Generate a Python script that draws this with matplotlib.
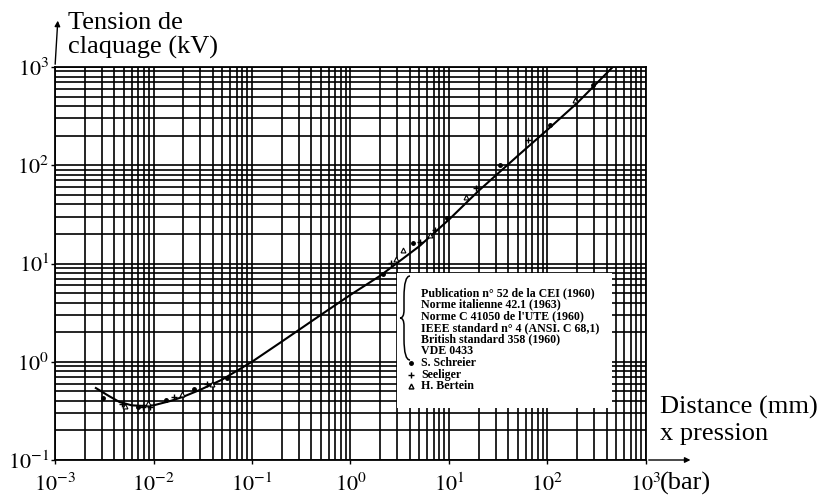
import math
import matplotlib
matplotlib.use("Agg")
import matplotlib.pyplot as plt
from matplotlib.patches import Rectangle, PathPatch
from matplotlib.path import Path
from matplotlib.ticker import FixedLocator, FuncFormatter, NullFormatter

# Paschen curve: pd (mm x bar) -> breakdown voltage (kV)
curve_pd = [0.0026, 0.0035, 0.0045, 0.006, 0.008, 0.01, 0.015, 0.02, 0.03, 0.05,
            0.1, 0.2, 0.5, 1, 2, 5, 10, 20, 50, 100, 200, 460]
curve_kv = [0.54, 0.45, 0.39, 0.36, 0.355, 0.36, 0.40, 0.44, 0.52, 0.66,
            1.0, 1.6, 3.0, 4.8, 7.5, 15, 28, 55, 125, 230, 430, 1000]

# measured points (approximate)
schreier_pd = [0.0031, 0.0069, 0.0135, 0.026, 0.056, 2.15, 4.3, 9.6, 33, 107, 290]
schreier_kv = [0.43, 0.35, 0.41, 0.53, 0.69, 7.8, 16, 29, 100, 257, 660]
seeliger_pd = [0.0048, 0.0078, 0.0093, 0.0162, 0.035, 2.6, 5.1, 7.2, 19, 63]
seeliger_kv = [0.37, 0.35, 0.35, 0.44, 0.59, 10.2, 16.6, 22, 59, 180]
bertein_pd = [0.0051, 0.0088, 0.0195, 0.039, 2.9, 3.4, 6.4, 15, 190]
bertein_kv = [0.355, 0.38, 0.47, 0.60, 11, 13.7, 19.5, 47, 460]

x_decades = [-3, -2, -1, 0, 1, 2, 3]
y_decades = [-1, 0, 1, 2, 3]

standards = ["Publication n\u00b0 52 de la CEI (1960)",
             "Norme italienne 42.1 (1963)",
             "Norme C 41050 de l'UTE (1960)",
             "IEEE standard n\u00b0 4 (ANSI. C 68,1)",
             "British standard 358 (1960)",
             "VDE 0433"]
authors = ["S. Schreier", "Seeliger", "H. Bertein"]

plt.rcParams["font.family"] = ["Liberation Serif", "DejaVu Serif"]
plt.rcParams["mathtext.fontset"] = "stix"

W, H = 820, 497
fig = plt.figure(figsize=(W / 100, H / 100), dpi=100)
ax = fig.add_axes([55 / W, 1 - 460 / H, 591 / W, 393 / H])
ax.set_xscale("log")
ax.set_yscale("log")
ax.set_xlim(1e-3, 1e3)
ax.set_ylim(1e-1, 1e3)

ax.xaxis.set_major_locator(FixedLocator([10.0 ** d for d in x_decades]))
ax.yaxis.set_major_locator(FixedLocator([10.0 ** d for d in y_decades]))
ax.xaxis.set_minor_locator(FixedLocator([k * 10.0 ** d for d in x_decades[:-1] for k in range(2, 10)]))
ax.yaxis.set_minor_locator(FixedLocator([k * 10.0 ** d for d in y_decades[:-1] for k in range(2, 10)]))
fmt = FuncFormatter(lambda v, p: r"$10^{%d}$" % round(math.log10(v)))
ax.xaxis.set_major_formatter(fmt)
ax.yaxis.set_major_formatter(fmt)
ax.xaxis.set_minor_formatter(NullFormatter())
ax.yaxis.set_minor_formatter(NullFormatter())
ax.tick_params(which="major", length=3, width=1, labelsize=16, direction="out")
ax.tick_params(axis="x", which="major", pad=7)
ax.tick_params(axis="y", which="major", pad=1)
ax.tick_params(which="minor", length=0)
ax.grid(True, which="both", color="black", linewidth=1.2)
for s in ax.spines.values():
    s.set_linewidth(1.3)

ax.plot(curve_pd, curve_kv, color="black", linewidth=1.5, zorder=3)
ax.plot(schreier_pd, schreier_kv, "o", color="black", markersize=2.5, zorder=4)
ax.plot(seeliger_pd, seeliger_kv, "+", color="black", markersize=4, markeredgewidth=1, zorder=4)
ax.plot(bertein_pd, bertein_kv, "^", markerfacecolor="white", markeredgecolor="black",
        markersize=3.5, markeredgewidth=0.8, zorder=4)

# axis arrows
ax.annotate("", xy=(0.005, 1.125), xytext=(0, 1), xycoords="axes fraction",
            arrowprops=dict(arrowstyle="-|>", color="black", lw=1, mutation_scale=8),
            annotation_clip=False)
ax.annotate("", xy=(1.08, 0), xytext=(1, 0), xycoords="axes fraction",
            arrowprops=dict(arrowstyle="-|>", color="black", lw=1, mutation_scale=8),
            annotation_clip=False)

# legend box drawn over the grid
def ax_frac(px, py):
    return ((px - 55) / 591, (460 - py) / 393)

bx0, by0 = ax_frac(397, 408)
bx1, by1 = ax_frac(612, 273)
ax.add_patch(Rectangle((bx0, by0), bx1 - bx0, by1 - by0, transform=ax.transAxes,
                       facecolor="white", edgecolor="none", zorder=5))

# curly brace
top = ax_frac(410, 276)
bot = ax_frac(410, 360)
mid = ax_frac(400, 318)
xl = ax_frac(404, 0)[0]
verts = [top, (xl, top[1]), (xl, (top[1] + mid[1]) / 2), (xl, mid[1] + 0.02),
         (xl, mid[1]), mid, mid,
         mid, (xl, mid[1]), (xl, mid[1] - 0.02),
         (xl, (bot[1] + mid[1]) / 2), (xl, bot[1]), bot]
codes = [Path.MOVETO, Path.CURVE3, Path.CURVE3, Path.LINETO,
         Path.CURVE3, Path.CURVE3, Path.LINETO,
         Path.MOVETO, Path.CURVE3, Path.CURVE3,
         Path.LINETO, Path.CURVE3, Path.CURVE3]
ax.add_patch(PathPatch(Path(verts, codes), transform=ax.transAxes, facecolor="none",
                       edgecolor="black", linewidth=1.1, zorder=6))

for i, line in enumerate(standards):
    tx, ty = ax_frac(421, 296 + i * 11.6)
    ax.text(tx, ty, line, transform=ax.transAxes, fontsize=8.6, fontweight="bold",
            va="baseline", ha="left", zorder=7)
marks = [("o", 2.5, "black"), ("+", 4, "black"), ("^", 3.5, "white")]
for i, (name, (m, ms, fc)) in enumerate(zip(authors, marks)):
    tx, ty = ax_frac(421, 366 + i * 11.6)
    ax.text(tx, ty, name, transform=ax.transAxes, fontsize=8.6, fontweight="bold",
            va="baseline", ha="left", zorder=7)
    mx, my = ax_frac(411, 363 + i * 11.6)
    ax.plot([mx], [my], m, transform=ax.transAxes, markersize=ms, markerfacecolor=fc,
            markeredgecolor="black", markeredgewidth=1, zorder=7, clip_on=False)

# axis titles
fig.text(68 / W, 1 - 12 / H, "Tension de\nclaquage (kV)", fontsize=19,
         va="top", ha="left", linespacing=1.12)
fig.text(660 / W, 1 - 396 / H, "Distance (mm)\nx pression", fontsize=19,
         va="top", ha="left", linespacing=1.25)
fig.text(660 / W, 1 - 490 / H, "(bar)", fontsize=19, va="baseline", ha="left")

fig.savefig("out.png", dpi=100, facecolor="white")
